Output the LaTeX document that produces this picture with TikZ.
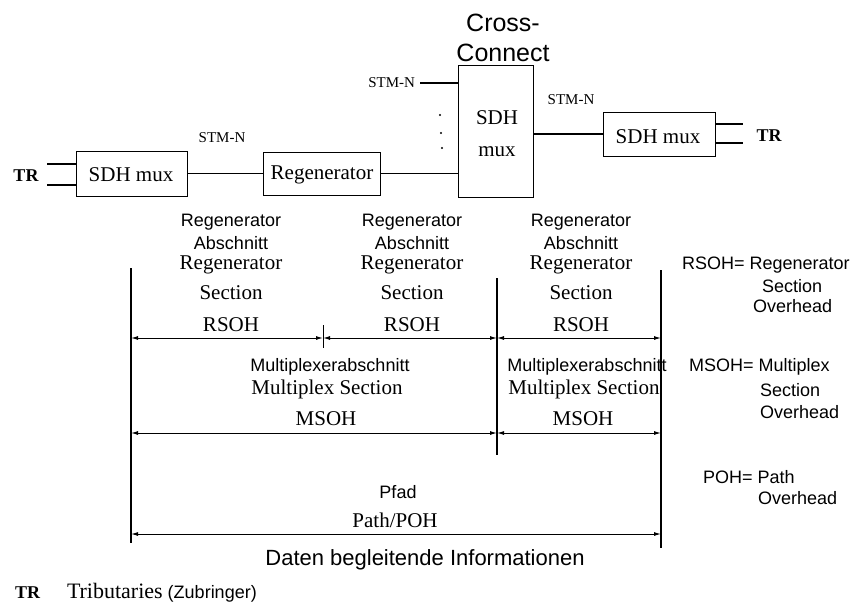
\documentclass[tikz,border=0pt]{standalone}
\usepackage{fontspec}
\setmainfont{Liberation Serif}
\setsansfont{Liberation Sans}
\usetikzlibrary{arrows.meta}

\begin{document}
\begin{tikzpicture}[x=1pt,y=-1pt,
  line width=1.1pt,
  lab/.style={inner sep=0pt, outer sep=0pt},
  ser/.style={lab, font=\fontsize{21}{25}\selectfont},
  stm/.style={lab, font=\fontsize{15}{18}\selectfont},
  trib/.style={lab, font=\fontsize{18}{21}\selectfont\bfseries},
  san/.style={lab, font=\fontsize{18}{21}\selectfont\sffamily},
  sanbig/.style={lab, font=\fontsize{25}{30}\selectfont\sffamily},
  sanmid/.style={lab, font=\fontsize{22}{26}\selectfont\sffamily},
  unit/.style={draw, line width=1pt, inner sep=0pt, minimum width=#1},
  dim/.style={line width=1pt, {Latex[length=7pt,width=4pt]}-{Latex[length=7pt,width=4pt]}},
  bound/.style={line width=1.3pt}
]
\useasboundingbox (0,0) rectangle (861,603);

% ---------- network elements ----------
\node[unit=111pt, minimum height=45pt] (muxL) at (131.5,173.5) {};
\node[ser] (muxLt) at (131,175) {SDH mux};
\node[unit=117pt, minimum height=43pt] (regen) at (321.5,173.5) {};
\node[ser] (regent) at (322,175) {Regenerator};
\node[unit=75pt, minimum height=132pt] (cc) at (495.5,131) {};
\node[ser] (ccA) at (497,118) {SDH};
\node[ser] (ccB) at (497,152) {mux};
\node[unit=112pt, minimum height=44pt] (muxR) at (659,134) {};
\node[ser] (muxRt) at (658,137) {SDH mux};

\node[sanbig] (crossA) at (503,23) {Cross-};
\node[sanbig] (crossB) at (503,53) {Connect};

% tributaries
\node[trib] (trL) at (26,176) {TR};
\coordinate (trL1) at (47,164);
\coordinate (trL2) at (47,185);
\draw (trL1) -- (trL1 -| muxL.west);
\draw (trL2) -- (trL2 -| muxL.west);
\node[trib] (trR) at (769,136) {TR};
\coordinate (trR1) at (743,124);
\coordinate (trR2) at (743,143);
\draw (trR1 -| muxR.east) -- (trR1);
\draw (trR2 -| muxR.east) -- (trR2);

% STM-N links
\draw (muxL) -- (regen);
\draw (regen.east) -- (regen.east -| cc.west);
\coordinate (stmIn) at (420,83);
\draw (stmIn) -- (stmIn -| cc.west);
\draw (cc.east |- muxR.west) -- (muxR.west);
\node[stm] (stmA) at (222,138) {STM-N};
\node[stm, anchor=east] (stmB) at (415,83) {STM-N};
\node[stm] (stmC) at (571,100) {STM-N};

% further inputs
\fill (440,115) circle (1.1);
\fill (441,133) circle (1.1);
\fill (442,148) circle (1.1);

% ---------- section boundaries ----------
\coordinate (vL1) at (131,268); \coordinate (vL2) at (131,543);
\coordinate (vM1) at (497,278); \coordinate (vM2) at (497,455);
\coordinate (vR1) at (661,270); \coordinate (vR2) at (661,548);
\coordinate (tk1) at (323,325); \coordinate (tk2) at (323,348);
\draw[bound, line width=1.6pt] (vL1) -- (vL2);
\draw[bound] (vM1) -- (vM2);
\draw[bound] (vR1) -- (vR2);
\draw[line width=1pt] (tk1) -- (tk2);

% regenerator sections
\coordinate (rA) at (131,338); \coordinate (rB) at (323,338);
\coordinate (rC) at (497,338); \coordinate (rD) at (661,338);
\draw[dim] (rA) -- (rB);
\draw[dim] (rB) -- (rC);
\draw[dim] (rC) -- (rD);

% multiplex sections
\coordinate (mA) at (131,433); \coordinate (mB) at (497,433); \coordinate (mC) at (661,433);
\draw[dim] (mA) -- (mB);
\draw[dim] (mB) -- (mC);

% path
\coordinate (pA) at (131,534); \coordinate (pB) at (661,534);
\draw[dim] (pA) -- (pB);

% ---------- section labels ----------
\foreach \x/\n in {231/1, 412/2, 581/3}{
  \node[san] (rsA\n) at (\x,222) {Regenerator};
  \node[san] (rsB\n) at (\x,243) {Abschnitt};
  \node[ser] (rsC\n) at (\x,265) {Regenerator};
  \node[ser] (rsD\n) at (\x,293) {Section};
  \node[ser] (rsE\n) at (\x,325) {RSOH};
}
\foreach \x/\n in {330/1, 587/2}{
  \node[san] (msA\n) at (\x,367) {Multiplexerabschnitt};
  \node[ser] (msB\n) at (\x-3,389) {Multiplex Section};
  \node[ser] (msC\n) at (\x-4,419) {MSOH};
}
\node[san] (pfad) at (398,492) {Pfad};
\node[ser] (path) at (395,520) {Path/POH};
\node[sanmid] (daten) at (425,560) {Daten begleitende Informationen};

% ---------- legend ----------
\node[san, anchor=west] (lgR1) at (682,265) {RSOH= Regenerator};
\node[san, anchor=west] (lgR2) at (762,286) {Section};
\node[san, anchor=west] (lgR3) at (753,306) {Overhead};
\node[san, anchor=west] (lgM1) at (689,367) {MSOH= Multiplex};
\node[san, anchor=west] (lgM2) at (760,390) {Section};
\node[san, anchor=west] (lgM3) at (760,412) {Overhead};
\node[san, anchor=west] (lgP1) at (703,477) {POH= Path};
\node[san, anchor=west] (lgP2) at (758,498) {Overhead};

\node[trib, anchor=base west] (trKey) at (15,598) {TR};
\node[lab, font=\fontsize{22}{25}\selectfont, anchor=base west] (tribKey) at (67,598) {Tributaries};
\node[lab, font=\fontsize{18}{21}\selectfont\sffamily, anchor=base west] (zubKey) at ([xshift=5pt]tribKey.base east) {(Zubringer)};
\end{tikzpicture}
\end{document}
